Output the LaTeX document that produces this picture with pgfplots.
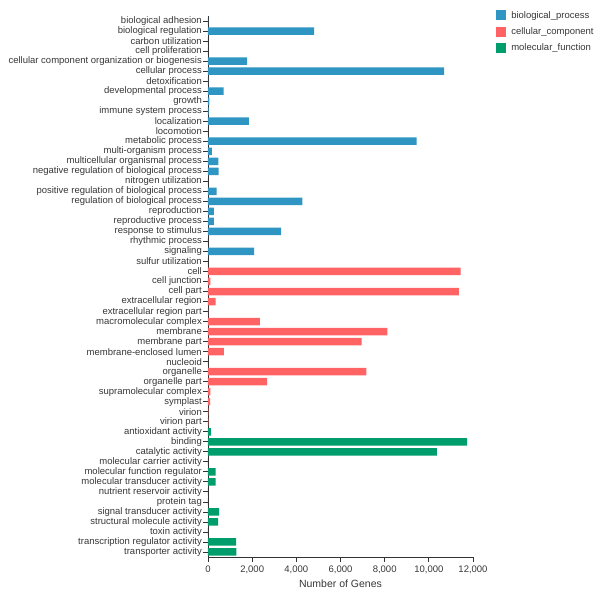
\documentclass[border=0pt]{standalone}
\usepackage{pgfplots}
\pgfplotsset{compat=1.18}
\usepackage{fontspec}
\setmainfont{Liberation Sans}
\definecolor{bp}{RGB}{47,150,195}
\definecolor{cc}{RGB}{255,99,99}
\definecolor{mf}{RGB}{0,157,108}
\definecolor{axc}{RGB}{51,51,51}
\definecolor{txt}{RGB}{55,55,55}
\begin{document}
\begin{tikzpicture}
\path[use as bounding box] (0pt,0pt) rectangle (600pt,599pt);
\begin{axis}[
  at={(208pt,42pt)}, anchor=south west,
  scale only axis, width=265pt, height=541pt,
  xmin=0, xmax=12000, ymin=-0.5, ymax=53.5, y dir=reverse,
  axis x line*=bottom, axis y line*=left,
  axis line style={axc, line width=0.8pt},
  xtick={0,2000,...,12000},
  ytick={0,...,53},
  yticklabels={biological adhesion,biological regulation,carbon utilization,cell proliferation,cellular component organization or biogenesis,cellular process,detoxification,developmental process,growth,immune system process,localization,locomotion,metabolic process,multi-organism process,multicellular organismal process,negative regulation of biological process,nitrogen utilization,positive regulation of biological process,regulation of biological process,reproduction,reproductive process,response to stimulus,rhythmic process,signaling,sulfur utilization,cell,cell junction,cell part,extracellular region,extracellular region part,macromolecular complex,membrane,membrane part,membrane-enclosed lumen,nucleoid,organelle,organelle part,supramolecular complex,symplast,virion,virion part,antioxidant activity,binding,catalytic activity,molecular carrier activity,molecular function regulator,molecular transducer activity,nutrient reservoir activity,protein tag,signal transducer activity,structural molecule activity,toxin activity,transcription regulator activity,transporter activity},
  tick style={axc, line width=0.8pt}, tick align=outside, major tick length=5pt,
  /pgf/number format/assume math mode=true,
  /pgf/number format/1000 sep={,},
  scaled x ticks=false,
  xticklabel style={font=\fontsize{9.5}{10}\selectfont, text=txt},
  yticklabel style={font=\fontsize{9.5}{10}\selectfont, text=txt, inner sep=1pt},
  xlabel={Number of Genes},
  xlabel style={font=\fontsize{10.5}{12}\selectfont, text=txt},
  xbar, bar width=7.5pt, bar shift=0pt,
  legend image code/.code={\fill[#1] (0pt,-5pt) rectangle (10pt,5pt);},
  legend style={at={(1.087,1.013)}, anchor=north west, draw=none, fill=none,
    font=\fontsize{9.5}{10}\selectfont, text=txt, row sep=4pt, column sep=3pt, inner sep=0pt},
  legend cell align=left,
]
\addplot[fill=bp, draw=none] coordinates {
(8,0) (4800,1) (0,2) (0,3) (1770,4) (10690,5) (5,6) (710,7) (60,8) (30,9)
(1850,10) (0,11) (9445,12) (180,13) (470,14) (485,15) (0,16) (390,17)
(4270,18) (270,19) (270,20) (3310,21) (0,22) (2090,23) (0,24)};
\addlegendentry{biological\_process}
\addplot[fill=cc, draw=none] coordinates {
(11440,25) (110,26) (11365,27) (350,28) (10,29) (2345,30) (8125,31) (6960,32)
(715,33) (0,34) (7170,35) (2680,36) (110,37) (100,38) (15,39) (15,40)};
\addlegendentry{cellular\_component}
\addplot[fill=mf, draw=none] coordinates {
(125,41) (11730,42) (10360,43) (0,44) (350,45) (350,46) (0,47) (0,48)
(500,49) (455,50) (0,51) (1270,52) (1285,53)};
\addlegendentry{molecular\_function}
\end{axis}
\end{tikzpicture}
\end{document}
